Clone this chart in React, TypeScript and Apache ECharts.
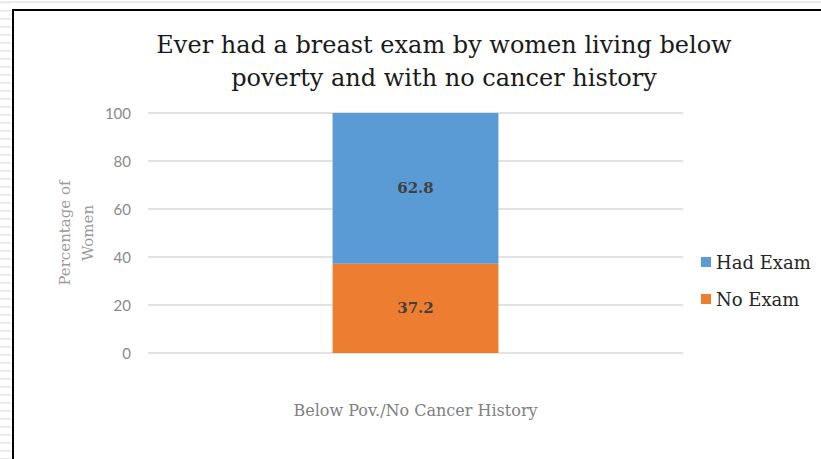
import React, { useEffect, useRef } from "react";
import * as echarts from "echarts";

// Survey result for women below the poverty line with no cancer history
const categories = ["Below Pov./No Cancer History"];
const noExam = [37.2];
const hadExam = [62.8];
const yTicks = [0, 20, 40, 60, 80, 100];

const SERIF = "'DejaVu Serif', 'Liberation Serif', serif";

export default function App() {
  const ref = useRef<HTMLDivElement>(null);

  useEffect(() => {
    if (!ref.current) return;
    const chart = echarts.init(ref.current, null, { renderer: "svg" });

    // page frame: faint ruled strip on the left, thin grey line on top, black border
    const stripes: any[] = [];
    for (let y = 2; y < 459; y += 8) {
      stripes.push({
        type: "rect",
        shape: { x: 0, y, width: 11, height: 1.5 },
        style: { fill: "#e4e4e4" },
        silent: true,
      });
    }

    const barLabel = {
      show: true,
      position: "inside",
      fontFamily: SERIF,
      fontSize: 15,
      fontWeight: "bold",
      color: "#404040",
    };

    chart.setOption({
      animation: false,
      backgroundColor: "#ffffff",
      title: {
        text: "Ever had a breast exam by women living below\npoverty and with no cancer history",
        left: 439,
        top: 23,
        textAlign: "center",
        textStyle: {
          fontFamily: SERIF,
          fontSize: 24,
          fontWeight: "normal",
          color: "#1a1a1a",
          lineHeight: 33,
        },
      },
      legend: {
        orient: "vertical",
        left: 696,
        top: 248,
        itemWidth: 10,
        itemHeight: 10,
        itemGap: 19,
        icon: "rect",
        data: ["Had Exam", "No Exam"],
        textStyle: { fontFamily: SERIF, fontSize: 18, color: "#262626" },
      },
      grid: { left: 148, right: 138, top: 113, bottom: 106 },
      xAxis: {
        type: "category",
        data: categories,
        axisLine: { show: false },
        axisTick: { show: false },
        axisLabel: {
          margin: 49,
          fontFamily: SERIF,
          fontSize: 16,
          color: "#808080",
        },
      },
      yAxis: {
        type: "value",
        min: yTicks[0],
        max: yTicks[yTicks.length - 1],
        interval: 20,
        name: "Percentage of\nWomen",
        nameLocation: "middle",
        nameRotate: 90,
        nameGap: 49,
        nameMoveOverlap: false,
        nameTextStyle: {
          fontFamily: SERIF,
          fontSize: 15,
          color: "#9a9a9a",
          lineHeight: 23,
        },
        axisLine: { show: false },
        axisTick: { show: false },
        axisLabel: {
          margin: 17,
          fontFamily: "Lato, sans-serif",
          fontSize: 15,
          color: "#8a8a8a",
        },
        splitLine: { lineStyle: { color: "#d9d9d9", width: 1.5 } },
      },
      series: [
        {
          name: "No Exam",
          type: "bar",
          stack: "total",
          barWidth: "31%",
          data: noExam,
          itemStyle: { color: "#ed7d31" },
          label: barLabel,
        },
        {
          name: "Had Exam",
          type: "bar",
          stack: "total",
          barWidth: "31%",
          data: hadExam,
          itemStyle: { color: "#5b9bd5" },
          label: barLabel,
        },
      ],
      graphic: [
        ...stripes,
        {
          type: "rect",
          shape: { x: 0, y: 1, width: 821, height: 2 },
          style: { fill: "#ebebeb" },
          silent: true,
        },
        {
          type: "rect",
          shape: { x: 12, y: 9, width: 809, height: 2 },
          style: { fill: "#000000" },
          silent: true,
        },
        {
          type: "rect",
          shape: { x: 12, y: 9, width: 2, height: 450 },
          style: { fill: "#000000" },
          silent: true,
        },
      ],
    });

    return () => chart.dispose();
  }, []);

  return (
    <div
      ref={ref}
      style={{ position: "fixed", left: 0, top: 0, width: 821, height: 459 }}
    />
  );
}
